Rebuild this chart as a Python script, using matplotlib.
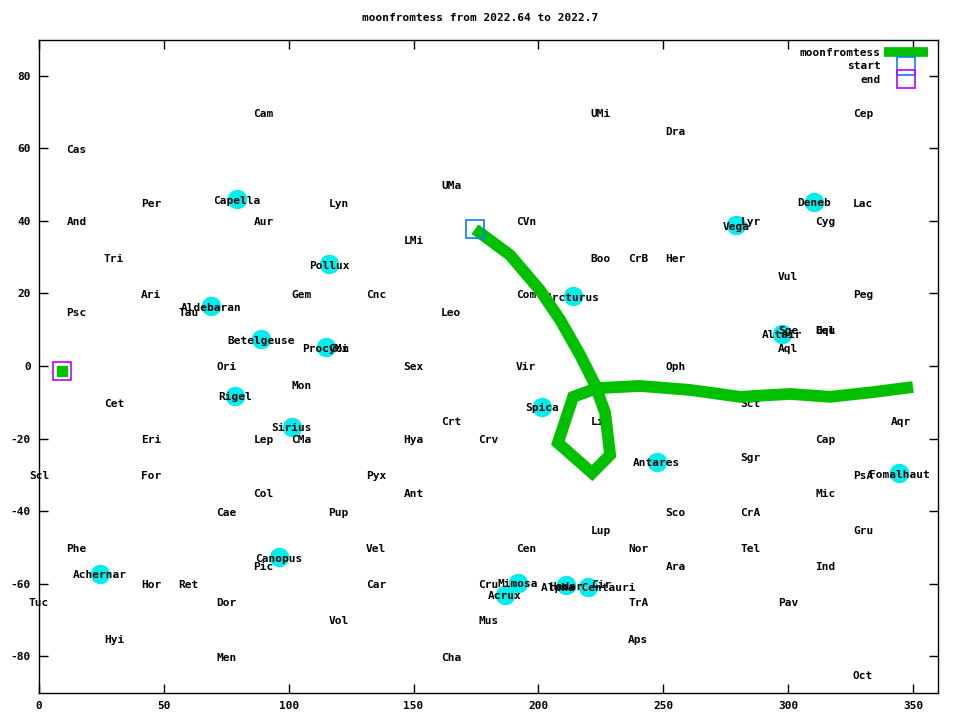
"""
moon track (seen from TESS) on a constellation / bright-star sky map
"""

import matplotlib
matplotlib.use("Agg")
import matplotlib.pyplot as plt
import matplotlib.transforms as mtransforms
from matplotlib.lines import Line2D

plt.rcParams['font.family'] = ['DejaVu Sans Mono']
plt.rcParams['font.weight'] = 'bold'
plt.rcParams['font.size'] = 8
plt.rcParams['axes.unicode_minus'] = False

# constellation label positions (RA deg, Dec deg)
con_names = ["Cam", "UMi", "Cep", "Dra", "Cas", "UMa", "Per", "Lyn", "Lac",
             "And", "Aur", "CVn", "Lyr", "Cyg", "LMi", "Tri", "Boo", "CrB", "Her",
             "Vul", "Ari", "Gem", "Cnc", "Com", "Peg", "Psc", "Tau", "Leo",
             "Sge", "Del", "Equ", "CMi", "Aql", "Ori", "Sex", "Vir", "Oph", "Mon",
             "Cet", "Sct", "Crt", "Lib", "Aqr", "Eri", "Lep", "CMa", "Hya", "Crv",
             "Cap", "Sgr", "Scl", "For", "Pyx", "PsA", "Col", "Ant", "Mic",
             "Cae", "Pup", "Sco", "CrA", "Lup", "Gru", "Phe", "Vel", "Cen", "Nor",
             "Tel", "Pic", "Ara", "Ind", "Hor", "Ret", "Car", "Cru", "Cir",
             "Tuc", "Dor", "TrA", "Pav", "Vol", "Mus", "Hyi", "Aps", "Men", "Cha", "Oct"]
con_ra = [90, 225, 330, 255, 15, 165, 45, 120, 330,
          15, 90, 195, 285, 315, 150, 30, 225, 240, 255,
          300, 45, 105, 135, 195, 330, 15, 60, 165,
          300, 315, 315, 120, 300, 75, 150, 195, 255, 105,
          30, 285, 165, 225, 345, 45, 90, 105, 150, 180,
          315, 285, 0, 45, 135, 330, 90, 150, 315,
          75, 120, 255, 285, 225, 330, 15, 135, 195, 240,
          285, 90, 255, 315, 45, 60, 135, 180, 225,
          0, 75, 240, 300, 120, 180, 30, 240, 75, 165, 330]
con_dec = [70, 70, 70, 65, 60, 50, 45, 45, 45,
           40, 40, 40, 40, 40, 35, 30, 30, 30, 30,
           25, 20, 20, 20, 20, 20, 15, 15, 15,
           10, 10, 10, 5, 5, 0, 0, 0, 0, -5,
           -10, -10, -15, -15, -15, -20, -20, -20, -20, -20,
           -20, -25, -30, -30, -30, -30, -35, -35, -35,
           -40, -40, -40, -40, -45, -45, -50, -50, -50, -50,
           -50, -55, -55, -55, -60, -60, -60, -60, -60,
           -65, -65, -65, -65, -70, -70, -75, -75, -80, -80, -85]

# bright stars
star_names = ["Sirius", "Canopus", "Arcturus", "Alpha Centauri", "Vega", "Capella",
              "Rigel", "Procyon", "Achernar", "Betelgeuse", "Hadar", "Altair",
              "Acrux", "Aldebaran", "Antares", "Spica", "Pollux", "Fomalhaut",
              "Deneb", "Mimosa"]
star_ra = [101.3, 96.0, 213.9, 219.9, 279.2, 79.2, 78.6, 114.8, 24.4, 88.8,
           211.0, 297.7, 186.6, 69.0, 247.4, 201.3, 116.3, 344.4, 310.4, 191.9]
star_dec = [-16.7, -52.7, 19.2, -60.8, 38.8, 46.0, -8.2, 5.2, -57.2, 7.4,
            -60.4, 8.9, -63.1, 16.5, -26.4, -11.2, 28.0, -29.6, 45.3, -59.7]

# moon track
moon_ra = [174.6, 188.6, 200.6, 208.7, 216.7, 222.7, 226.7, 228.7, 221.5,
           207.8, 213.9, 223.5, 240.7, 260.7, 280.7, 300.8, 316.8, 334.0, 350.0]
moon_dec = [37.7, 30.6, 20.9, 12.7, 3.0, -5.2, -12.9, -24.5, -29.5,
            -21.2, -8.5, -6.1, -5.5, -6.6, -8.5, -7.7, -8.5, -7.2, -5.8]
# after wrapping past 360
moon_end_ra = [9.2]
moon_end_dec = [-1.4]

green = "#00c000"
blue = "#0080ff"
purple = "#c000ff"
cyan = "#00eeee"


def draw():
    fig = plt.figure(figsize=(9.6, 7.2), dpi=100)
    ax = fig.add_axes([39 / 960, 1 - 692.5 / 720, 899 / 960, 653 / 720])

    # labels sit a pixel or so lower in the original
    txt_tr = ax.transData + mtransforms.ScaledTranslation(0, -1.5 / 100, fig.dpi_scale_trans)

    ax.plot(star_ra, star_dec, 'o', color=cyan, markersize=13, zorder=1)
    for n, x, y in zip(con_names, con_ra, con_dec):
        ax.text(x, y, n, ha='center', va='center', zorder=2, transform=txt_tr)
    for n, x, y in zip(star_names, star_ra, star_dec):
        ax.text(x, y, n, ha='center', va='center', zorder=2, transform=txt_tr)

    ax.plot(moon_ra, moon_dec, '-', color=green, lw=8.5, solid_joinstyle='miter',
            solid_capstyle='butt', zorder=3)
    ax.plot(moon_end_ra, moon_end_dec, 's', color=green, markersize=7.5, zorder=3)

    ax.plot(moon_ra[0], moon_dec[0], 's', mfc='none', mec=blue, mew=1.2,
            markersize=13, zorder=4)
    ax.plot(moon_end_ra[-1], moon_end_dec[-1], 's', mfc='none', mec=purple, mew=1.2,
            markersize=13, zorder=4)

    handles = [Line2D([], [], color=green, lw=7, solid_capstyle='butt'),
               Line2D([], [], ls='none', marker='s', mfc='none', mec=blue, mew=1.2, markersize=13),
               Line2D([], [], ls='none', marker='s', mfc='none', mec=purple, mew=1.2, markersize=13)]
    ax.legend(handles, ["moonfromtess", "start", "end"], loc='upper right',
              bbox_to_anchor=(1 - 1 / 899, 1), markerfirst=False, frameon=False,
              handlelength=4.0, handletextpad=0.25, labelspacing=0.28,
              borderaxespad=0.6, borderpad=0.2)

    ax.set_xlim(0, 360)
    ax.set_ylim(-90, 90)
    ax.set_xticks(range(0, 351, 50))
    ax.set_yticks(range(-80, 81, 20))
    ax.tick_params(direction='in', length=6.5, width=1, top=True, right=True, pad=6)
    for s in ax.spines.values():
        s.set_linewidth(1)

    fig.text(0.5, 1 - 18 / 720, "moonfromtess from 2022.64 to 2022.7",
             ha='center', va='center')
    fig.savefig("out.png", dpi=100)


if __name__ == '__main__':
    draw()
